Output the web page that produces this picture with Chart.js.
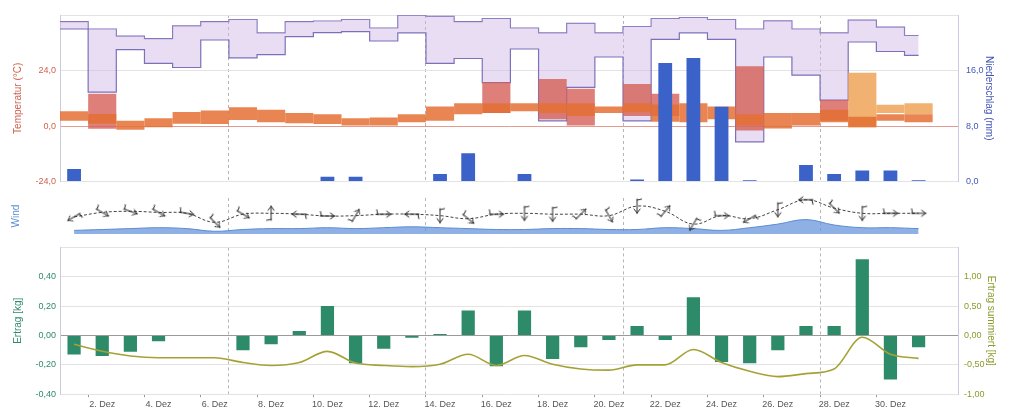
<!DOCTYPE html>
<html lang="de">
<head>
<meta charset="utf-8">
<title>Wetter und Ertrag Dezember</title>
<script src="https://cdn.jsdelivr.net/npm/chart.js@4.4.1/dist/chart.umd.min.js"></script>
<style>
  html, body { margin: 0; padding: 0; background: #fff; }
  #wrap { position: relative; width: 1009px; height: 412px; overflow: hidden; }
  canvas { position: absolute; left: 0; }
  #cTemp { top: 0; }
  #cWind { top: 192px; }
  #cErtrag { top: 236px; }
</style>
</head>
<body>
<div id="wrap">
  <canvas id="cTemp" width="1009" height="195"></canvas>
  <canvas id="cWind" width="1009" height="48"></canvas>
  <canvas id="cErtrag" width="1009" height="176"></canvas>
</div>
<script>
// Tage im Dezember (x-Achse: 0 = 1. Dez 00:00, Tagesmitte = Tag - 0.5)
const days = [1,2,3,4,5,6,7,8,9,10,11,12,13,14,15,16,17,18,19,20,21,22,23,24,25,26,27,28,29,30,31];
const labelDays = [2,4,6,8,10,12,14,16,18,20,22,24,26,28,30];
const weekStarts = [7,14,21,28];

// Temperatur (°C) Tagesspanne
const tempMin = [2.3,1.0,-1.6,-0.5,1.0,0.9,2.6,1.6,1.2,0.9,0.2,0.2,1.6,2.3,5.1,5.7,6.4,5.7,4.4,5.7,6.0,1.9,1.6,3.0,0.2,-1.0,0.2,1.6,-0.5,2.3,1.6];
const tempMax = [6.4,5.2,2.3,3.4,6.1,6.7,8.1,7.1,5.7,5.1,3.4,3.7,5.1,8.5,9.9,9.9,9.9,9.9,9.9,8.5,9.9,9.3,9.9,8.5,5.1,5.7,5.7,7.1,4.0,5.1,5.1];
// weitere Temperaturspannen (nur an einzelnen Tagen)
const spreadMin = [null,-1.2,null,null,null,null,null,null,null,null,null,null,null,null,null,5.7,null,3.0,0.2,null,4.4,4.4,null,null,-1.9,null,null,2.3,null,null,null];
const spreadMax = [null,14.0,null,null,null,null,null,null,null,null,null,null,null,null,null,18.9,null,20.3,16.1,null,18.2,14.0,null,null,25.8,null,null,11.3,null,null,null];
const warmMin = [null,null,null,null,null,null,null,null,null,null,null,null,null,null,null,null,null,null,null,null,null,null,null,null,null,null,null,null,-0.5,5.7,5.1];
const warmMax = [null,null,null,null,null,null,null,null,null,null,null,null,null,null,null,null,null,null,null,null,null,null,null,null,null,null,null,null,23.0,9.2,9.9];

// Luftfeuchte (%) min/max
const humMax = [96.0,91.6,87.3,85.8,93.5,96.0,97.3,89.3,96.0,96.4,97.3,92.2,99.8,99.2,96.0,97.9,92.2,89.3,95.0,89.3,93.1,97.9,98.5,97.3,91.6,96.5,91.6,89.3,96.9,92.7,87.7];
const humMin = [91.6,53.7,79.2,71.0,68.5,85.0,74.3,76.2,87.0,89.4,90.0,84.4,89.3,71.0,73.9,59.4,79.6,36.4,56.5,74.8,36.4,85.4,89.3,85.4,23.8,74.8,63.9,48.9,83.8,78.1,75.8];

// Niederschlag (mm)
const precip = [1.8,0,0,0,0,0,0,0,0,0.7,0.7,0,0,1.1,4.1,0.1,1.1,0,0,0,0.3,17.1,17.8,10.8,0.2,0,2.4,1.1,1.6,1.6,0.2];

// Wind (m/s), Böen und Richtung (Grad)
const windSpeed = [1.0,1.25,1.5,1.75,1.5,0.75,1.25,1.5,1.5,1.75,1.5,1.75,2.0,1.75,1.5,1.25,1.25,1.5,1.5,1.25,1.25,1.75,1.5,1.0,1.75,2.75,4.0,2.5,1.75,1.75,1.5];
const windGust = [4.75,6.0,6.3,6.0,5.75,3.25,5.5,5.75,5.5,5.0,5.1,5.5,5.5,5.1,4.25,5.5,5.75,5.5,5.5,5.1,7.75,6.3,2.75,5.1,4.25,6.75,9.5,7.2,5.75,5.75,5.75];
const windDir = [150,30,20,30,10,45,30,-90,180,0,-60,0,180,90,40,0,90,90,-45,60,90,-50,120,0,150,90,180,45,90,0,0];

// Ertrag (kg) und summiert (kg)
const ertrag = [-0.13,-0.14,-0.11,-0.04,0,0,-0.10,-0.06,0.03,0.20,-0.19,-0.09,-0.015,0.01,0.17,-0.21,0.17,-0.16,-0.08,-0.03,0.065,-0.03,0.26,-0.18,-0.19,-0.10,0.065,0.065,0.52,-0.30,-0.08];
const ertragSum = [-0.15,-0.27,-0.35,-0.38,-0.38,-0.38,-0.46,-0.51,-0.46,-0.27,-0.47,-0.51,-0.53,-0.49,-0.32,-0.51,-0.34,-0.49,-0.57,-0.59,-0.50,-0.50,-0.24,-0.46,-0.61,-0.70,-0.65,-0.57,-0.03,-0.32,-0.39];

Chart.defaults.font.family = "'Liberation Sans', Arial, sans-serif";
Chart.defaults.font.size = 9;
Chart.defaults.animation = false;
Chart.defaults.plugins.legend.display = false;
Chart.defaults.plugins.tooltip.enabled = false;

// x-Ticks: Beschriftung zur Tagesmitte, Teilstrich um Mitternacht, Wochenlinien
// (kleinster Tick-Abstand ist ein halber Tag -> Balkenbreiten relativ dazu)
const weekLines = weekStarts.map(d => d - 1);
let xTickValues = [];
labelDays.forEach(d => { xTickValues.push(d - 0.5); xTickValues.push(d - 1); });
weekLines.forEach(v => { if (!xTickValues.includes(v)) xTickValues.push(v); });
xTickValues.sort((a, b) => a - b);

function xAxis(showLabels) {
    return {
        type: 'linear', min: 0, max: 31.9, offset: false,
        afterBuildTicks: axis => { axis.ticks = xTickValues.map(v => ({ value: v })); },
        ticks: {
            display: showLabels, autoSkip: false, maxRotation: 0, padding: 2, color: '#555',
            callback: v => (v % 1 === 0.5 ? (v + 0.5) + '. Dez' : '')
        },
        grid: {
            offset: false, drawTicks: showLabels, tickLength: 3,
            color: c => (c.tick && weekLines.includes(c.tick.value)) ? '#b5b5b5' : 'rgba(0,0,0,0)',
            tickColor: c => (c.tick && Number.isInteger(c.tick.value) && c.tick.value % 2 === 1) ? '#999' : 'rgba(0,0,0,0)'
        },
        border: { display: false, dash: [3, 3] }
    };
}

const comma = (v, n) => (Math.abs(v) < 1e-9 ? 0 : v).toFixed(n).replace('.', ',');
const dayPoints = arr => days.map((d, i) => ({ x: d - 0.5, y: arr[i] }));
const rangePoints = (lo, hi) => days.map((d, i) => ({ x: d - 0.5, y: lo[i] === null ? null : [lo[i], hi[i]] }));
const stepPoints = arr => arr.map((v, i) => ({ x: i, y: v })).concat([{ x: 30.5, y: arr[arr.length - 1] }]);

// Temperatur / Niederschlag / Feuchte
new Chart(document.getElementById('cTemp'), {
    type: 'bar',
    data: {
        datasets: [
            { type: 'bar', label: 'Niederschlag', yAxisID: 'yP', data: dayPoints(precip),
              backgroundColor: '#3a62c8', barPercentage: 0.98, categoryPercentage: 1, grouped: false, order: 0 },
            { type: 'bar', label: 'Temperatur', yAxisID: 'yT', data: rangePoints(tempMin, tempMax),
              backgroundColor: 'rgba(228,112,52,0.85)', barPercentage: 2, categoryPercentage: 1, grouped: false, order: 2 },
            { type: 'bar', label: 'Temperaturspanne', yAxisID: 'yT', data: rangePoints(spreadMin, spreadMax),
              backgroundColor: 'rgba(214,96,88,0.8)', barPercentage: 2, categoryPercentage: 1, grouped: false, order: 3 },
            { type: 'bar', label: 'Temperaturspanne warm', yAxisID: 'yT', data: rangePoints(warmMin, warmMax),
              backgroundColor: 'rgba(240,168,96,0.9)', barPercentage: 2, categoryPercentage: 1, grouped: false, order: 3 },
            { type: 'line', label: 'Feuchte max', yAxisID: 'yH', data: stepPoints(humMax), stepped: true,
              borderColor: '#7c70bb', borderWidth: 1.2, pointRadius: 0, fill: false, order: 6 },
            { type: 'line', label: 'Feuchte min', yAxisID: 'yH', data: stepPoints(humMin), stepped: true,
              borderColor: '#7c70bb', borderWidth: 1.2, pointRadius: 0, fill: '-1',
              backgroundColor: 'rgba(205,180,226,0.45)', order: 5 }
        ]
    },
    options: {
        responsive: false,
        layout: { padding: { top: 15, bottom: 7, left: 0, right: 0 } },
        scales: {
            x: xAxis(false),
            yT: {
                position: 'left', min: -24, max: 48,
                afterFit: s => { s.width = 60; },
                ticks: { stepSize: 24, color: '#d0614e', padding: 4, callback: v => (v >= 48 ? '' : comma(v, 1)) },
                grid: { drawTicks: false, color: c => (c.tick && c.tick.value === 0) ? '#e59a8f' : '#e3e3e3' },
                border: { color: '#c9cbe0' },
                title: { display: true, text: 'Temperatur (°C)', color: '#d0614e', font: { size: 10 }, padding: { top: 12, bottom: 0 } }
            },
            yP: {
                position: 'right', min: 0, max: 24,
                afterFit: s => { s.width = 51; },
                ticks: { stepSize: 8, color: '#4356b8', padding: 8, callback: v => (v >= 24 ? '' : comma(v, 1)) },
                grid: { drawOnChartArea: false, drawTicks: false },
                border: { color: '#c9cbe0' },
                title: { display: true, text: 'Niederschlag (mm)', color: '#4356b8', font: { size: 10 }, padding: { top: 14, bottom: 0 } }
            },
            yH: { display: false, min: 0, max: 100 }
        }
    }
});

// Windpfeil als Punktsymbol
function makeArrow() {
    const c = document.createElement('canvas');
    c.width = 18; c.height = 18;
    const g = c.getContext('2d');
    g.strokeStyle = '#2a2a2a';
    g.lineWidth = 1;
    g.lineCap = 'round';
    g.beginPath();
    g.moveTo(2, 9); g.lineTo(16, 9);
    g.moveTo(16, 9); g.lineTo(12, 6);
    g.moveTo(16, 9); g.lineTo(12, 12);
    g.moveTo(3, 9); g.lineTo(2, 4.5);
    g.stroke();
    return c;
}
const arrowImg = makeArrow();

// Wind
new Chart(document.getElementById('cWind'), {
    type: 'line',
    data: {
        datasets: [
            { label: 'Windrichtung', yAxisID: 'yW', data: dayPoints(windGust), borderColor: '#444', borderWidth: 1,
              borderDash: [3, 2], tension: 0.4, pointStyle: arrowImg, pointRotation: windDir, pointRadius: 5,
              fill: false, clip: false, order: 0 },
            { label: 'Windgeschwindigkeit', yAxisID: 'yW', data: dayPoints(windSpeed), fill: 'origin',
              backgroundColor: 'rgba(105,150,220,0.75)', borderColor: '#5c8cd2', borderWidth: 1,
              tension: 0.4, pointRadius: 0, order: 1 }
        ]
    },
    options: {
        responsive: false,
        layout: { padding: { top: 5, bottom: 3, left: 0, right: 51 } },
        scales: {
            x: xAxis(false),
            yW: {
                position: 'left', min: 0, max: 10,
                afterFit: s => { s.width = 60; },
                ticks: { display: false },
                grid: { display: false },
                border: { display: false },
                title: { display: true, text: 'Wind', color: '#5b8fd6', font: { size: 10 }, padding: { top: 10, bottom: 0 } }
            }
        }
    }
});

// Ertrag
new Chart(document.getElementById('cErtrag'), {
    type: 'bar',
    data: {
        datasets: [
            { type: 'line', label: 'Ertrag summiert', yAxisID: 'yS', data: dayPoints(ertragSum),
              borderColor: '#a5a235', borderWidth: 1.6, pointRadius: 0, cubicInterpolationMode: 'monotone', order: 0 },
            { type: 'bar', label: 'Ertrag', yAxisID: 'yE', data: dayPoints(ertrag),
              backgroundColor: '#2e8b6a', barPercentage: 0.94, categoryPercentage: 1, grouped: false, order: 1 }
        ]
    },
    options: {
        responsive: false,
        layout: { padding: { top: 6, bottom: 0, left: 0, right: 0 } },
        scales: {
            x: xAxis(true),
            yE: {
                position: 'left', min: -0.4, max: 0.6,
                afterFit: s => { s.width = 60; },
                ticks: { stepSize: 0.2, color: '#2e8a68', padding: 4, callback: v => (v > 0.55 ? '' : comma(v, 2)) },
                grid: { drawTicks: false, color: c => (c.tick && Math.abs(c.tick.value) < 1e-9) ? '#9a9a9a' : '#e3e3e3' },
                border: { color: '#c9cbe0' },
                title: { display: true, text: 'Ertrag [kg]', color: '#2e8a68', font: { size: 10 }, padding: { top: 12, bottom: 0 } }
            },
            yS: {
                position: 'right', min: -1, max: 1.5,
                afterFit: s => { s.width = 51; },
                ticks: { stepSize: 0.5, color: '#8c9a2c', padding: 6, callback: v => (v > 1.25 ? '' : comma(v, 2)) },
                grid: { drawOnChartArea: false, drawTicks: false },
                border: { color: '#c9cbe0' },
                title: { display: true, text: 'Ertrag summiert [kg]', color: '#8c9a2c', font: { size: 10 }, padding: { top: 12, bottom: 0 } }
            }
        }
    }
});
</script>
</body>
</html>
